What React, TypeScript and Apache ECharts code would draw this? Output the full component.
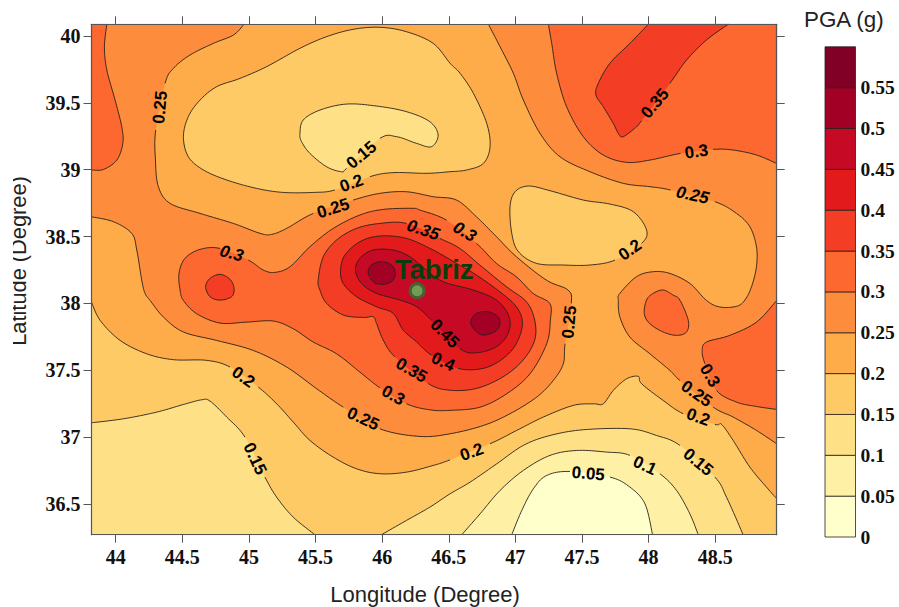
import React, { useEffect, useRef } from "react";
import * as echarts from "echarts";

type P = [number, number] | null;

const lonMin = 43.818, lonMax = 48.962, latMin = 36.27, latMax = 40.0875;
const lonTicks = [44, 44.5, 45, 45.5, 46, 46.5, 47, 47.5, 48, 48.5];
const latTicks = [36.5, 37, 37.5, 38, 38.5, 39, 39.5, 40];
const bandLows = [0, 0.05, 0.1, 0.15, 0.2, 0.25, 0.3, 0.35, 0.4, 0.45, 0.5, 0.55];
const bandColors = ["#FFFFCC", "#FEF1A6", "#FEE187", "#FECA66", "#FEAB49", "#FD8D3C", "#FC6830", "#F43D25", "#E31A1C", "#C60A25", "#A30026", "#800026"];
const tabriz: [number, number] = [46.2625, 38.095];

const nwCorner: P[] = [[lonMin, latMax]];
const neCorner: P[] = [[lonMax, latMax]];
const swCorner: P[] = [[lonMin, latMin]];
const southCorners: P[] = [[lonMax, latMin], [lonMin, latMin]];
const frame: P[] = [[lonMin, latMax], [lonMax, latMax], [lonMax, latMin], [lonMin, latMin]];

// null marks the gap a contour label leaves in the line
const c30NW: P[] = [[43.933, 40.0875], [43.915, 39.92], [43.933, 39.746], [43.995, 39.521], [44.045, 39.322], [44.053, 39.197], [44.008, 39.072], [43.908, 39.002], [43.818, 38.998]];
const c25A: P[] = [[44.963, 40.0875], [44.883, 40.007], [44.733, 39.945], [44.558, 39.858], [44.433, 39.758], [44.37, 39.646], null, [44.3, 39.297], [44.298, 39.072], [44.32, 38.873], [44.408, 38.748], [44.633, 38.673], [44.883, 38.598], [45.083, 38.524], [45.17, 38.516], [45.283, 38.561], [45.483, 38.673], null, [45.783, 38.773], [45.983, 38.823], [46.183, 38.835], [46.383, 38.798], [46.558, 38.773], [46.708, 38.648], [46.858, 38.499], [47.008, 38.349], [47.233, 38.174], [47.395, 38.1], [47.42, 38.0], null, [47.373, 37.698], [47.36, 37.549], [47.285, 37.424], [47.16, 37.299], [46.96, 37.175], [46.76, 37.087], [46.51, 37.025], [46.283, 37.005], [45.983, 37.062], null, [45.708, 37.224], [45.508, 37.362], [45.283, 37.524], [45.033, 37.648], [44.758, 37.723], [44.508, 37.786], [44.358, 37.898], [44.258, 38.022], [44.22, 38.075], [44.195, 38.175], [44.158, 38.399], [44.12, 38.524], [43.983, 38.611], [43.818, 38.648]];
const c25B: P[] = [[46.798, 40.0875], [46.885, 39.92], [46.985, 39.721], [47.06, 39.521], [47.185, 39.272], [47.335, 39.097], [47.56, 38.985], [47.81, 38.898], [48.01, 38.873], [48.165, 38.848], null, [48.498, 38.761], [48.66, 38.673], [48.76, 38.574], [48.81, 38.424], [48.81, 38.274], [48.773, 38.125], [48.723, 38.025], [48.66, 37.978], [48.535, 37.973], [48.435, 38.022], [48.31, 38.149], [48.16, 38.224], [48.035, 38.237], [47.91, 38.2], [47.785, 38.075], [47.773, 38.022], [47.785, 37.898], [47.86, 37.748], [48.01, 37.623], [48.16, 37.499], [48.235, 37.424], null, [48.485, 37.224], [48.635, 37.15], [48.81, 37.05], [48.962, 36.95]];
const c30NE: P[] = [[47.248, 40.0875], [47.273, 39.945], [47.31, 39.721], [47.385, 39.471], [47.51, 39.247], [47.66, 39.11], [47.835, 39.055], [48.01, 39.072], [48.24, 39.122], null, [48.485, 39.152], [48.635, 39.147], [48.81, 39.11], [48.962, 39.047]];
const c35NE: P[] = [[47.998, 40.0875], [47.86, 39.945], [47.71, 39.796], [47.623, 39.646], [47.605, 39.559], [47.66, 39.471], [47.735, 39.347], [47.773, 39.272], [47.81, 39.247], [47.91, 39.322], [47.948, 39.367], null, [48.16, 39.646], [48.285, 39.82], [48.435, 39.97], [48.598, 40.0875]];
const c20Top: P[] = [[46.383, 39.945], [46.183, 40.032], [45.983, 40.065], [45.783, 40.05], [45.583, 39.995], [45.383, 39.908], [45.133, 39.771], [44.933, 39.683], [44.758, 39.621], [44.633, 39.521], [44.545, 39.397], [44.508, 39.247], [44.545, 39.097], [44.658, 38.998], [44.833, 38.923], [45.058, 38.86], [45.258, 38.83], [45.483, 38.83], [45.645, 38.848], null, [45.908, 38.948], [46.083, 38.978], [46.333, 38.973], [46.51, 38.985], [46.635, 38.998], [46.76, 39.047], [46.81, 39.172], [46.785, 39.347], [46.685, 39.571], [46.585, 39.721], [46.51, 39.796]];
const c15Top: P[] = [[45.383, 39.272], [45.408, 39.372], [45.533, 39.446], [45.733, 39.491], [45.958, 39.476], [46.183, 39.434], [46.358, 39.359], [46.42, 39.259], [46.37, 39.172], [46.258, 39.197], [46.108, 39.247], [45.983, 39.234], null, [45.733, 39.01], [45.695, 38.985], [45.583, 39.022], [45.458, 39.122], [45.395, 39.21]];
const c20Mid: P[] = [[46.96, 38.723], [46.998, 38.835], [47.098, 38.878], [47.26, 38.843], [47.51, 38.773], [47.71, 38.743], [47.885, 38.686], [47.985, 38.549], [47.948, 38.449], null, [47.748, 38.324], [47.56, 38.287], [47.36, 38.287], [47.16, 38.299], [47.023, 38.387], [46.973, 38.524]];
const c20S: P[] = [[43.818, 38.01], [43.883, 37.873], [44.033, 37.723], [44.233, 37.623], [44.433, 37.579], [44.683, 37.574], [44.858, 37.524], null, [45.07, 37.374], [45.208, 37.249], [45.333, 37.112], [45.458, 36.975], [45.633, 36.85], [45.808, 36.763], [45.983, 36.726], [46.183, 36.738], [46.383, 36.788], [46.51, 36.83], null, [46.81, 36.95], [47.01, 37.05], [47.21, 37.15], [47.435, 37.237], [47.585, 37.249], [47.66, 37.249], [47.735, 37.349], [47.835, 37.436], [47.923, 37.454], [47.948, 37.399], [48.11, 37.274], [48.26, 37.175], null, [48.498, 37.095], [48.548, 37.095], [48.635, 36.975], [48.76, 36.776], [48.885, 36.626], [48.962, 36.539]];
const c15SW: P[] = [[43.818, 37.107], [44.058, 37.137], [44.308, 37.187], [44.508, 37.244], [44.645, 37.279], [44.708, 37.269], [44.833, 37.15], [44.97, 37.0], null, [45.12, 36.701], [45.208, 36.551], [45.333, 36.401], [45.495, 36.27]];
const c15S: P[] = [[45.995, 36.27], [46.183, 36.377], [46.358, 36.476], [46.51, 36.576], [46.66, 36.663], [46.86, 36.8], [47.06, 36.938], [47.26, 37.012], [47.51, 37.055], [47.86, 37.062], [48.06, 37.012], [48.235, 36.938], null, [48.498, 36.701], [48.585, 36.551], [48.71, 36.27]];
const c10S: P[] = [[46.598, 36.27], [46.735, 36.426], [46.885, 36.601], [47.06, 36.751], [47.26, 36.863], [47.46, 36.9], [47.685, 36.888], [47.86, 36.863], null, [48.085, 36.726], [48.21, 36.601], [48.31, 36.426], [48.373, 36.27]];
const c05S: P[] = [[46.973, 36.27], [47.048, 36.451], [47.135, 36.613], [47.235, 36.713], [47.41, 36.743], null, [47.71, 36.701], [47.86, 36.626], [47.973, 36.501], [48.03, 36.27]];
const c30C: P[] = [[44.995, 38.324], [45.108, 38.249], [45.195, 38.232], [45.308, 38.274], [45.458, 38.424], [45.633, 38.561], [45.833, 38.661], [46.008, 38.703], [46.233, 38.711], [46.283, 38.698], [46.483, 38.623], null, [46.708, 38.449], [46.858, 38.299], [47.008, 38.199], [47.133, 38.075], [47.258, 38.0], [47.263, 37.875], [47.235, 37.698], [47.11, 37.474], [46.935, 37.324], [46.735, 37.224], [46.51, 37.2], [46.358, 37.204], [46.183, 37.249], null, [45.983, 37.369], [45.833, 37.486], [45.658, 37.623], [45.483, 37.711], [45.333, 37.81], [45.183, 37.868], [44.983, 37.86], [44.783, 37.853], [44.608, 37.923], [44.508, 38.022], [44.483, 38.1], [44.475, 38.224], [44.52, 38.337], [44.633, 38.404], [44.783, 38.411], null];
const c30Island: P[] = [[47.985, 38.025], [48.035, 38.075], [48.11, 38.1], [48.185, 38.062], [48.235, 38.025], [48.298, 37.873], [48.285, 37.786], [48.21, 37.761], [48.11, 37.786], [48.01, 37.848], [47.968, 37.923]];
const c30E: P[] = [[48.962, 38.022], [48.81, 37.86], [48.61, 37.761], [48.435, 37.711], [48.403, 37.648], [48.423, 37.549], null, [48.51, 37.349], [48.66, 37.262], [48.81, 37.229], [48.962, 37.207]];
const c35W: P[] = [[44.675, 38.125], [44.708, 38.187], [44.783, 38.217], [44.858, 38.18], [44.888, 38.112], [44.87, 38.05], [44.783, 38.025], [44.708, 38.05]];
const c35C: P[] = [[45.52, 38.174], [45.558, 38.349], [45.658, 38.474], [45.808, 38.561], [45.983, 38.598], [46.183, 38.598], null, [46.433, 38.486], [46.583, 38.411], [46.733, 38.287], [46.933, 38.125], [47.083, 38.012], [47.145, 37.875], [47.145, 37.725], [47.058, 37.576], [46.908, 37.451], [46.708, 37.364], [46.508, 37.351], [46.345, 37.401], null, [46.095, 37.601], [46.008, 37.726], [45.958, 37.85], [45.933, 37.9], [45.858, 37.895], [45.708, 37.913], [45.583, 38.0], [45.533, 38.1]];
const c40C: P[] = [[45.688, 38.249], [45.72, 38.361], [45.833, 38.461], [45.983, 38.504], [46.183, 38.486], [46.383, 38.399], [46.558, 38.299], [46.708, 38.212], [46.883, 38.087], [47.008, 37.975], [47.053, 37.85], [47.008, 37.701], [46.908, 37.588], [46.758, 37.514], [46.57, 37.514], null, [46.37, 37.613], [46.258, 37.713], [46.158, 37.8], [46.083, 37.925], [45.958, 37.975], [45.808, 38.05], [45.708, 38.149]];
const c45C: P[] = [[45.8, 38.249], [45.833, 38.337], [45.933, 38.399], [46.083, 38.399], [46.208, 38.349], [46.333, 38.249], [46.458, 38.162], [46.683, 38.1], [46.858, 38.025], [46.953, 37.9], [46.945, 37.775], [46.858, 37.676], [46.708, 37.631], [46.583, 37.663], null, [46.37, 37.875], [46.258, 37.975], [46.133, 38.025], [45.958, 38.075], [45.845, 38.149]];
const c50W: P[] = [[45.895, 38.229], [45.92, 38.287], [45.995, 38.312], [46.07, 38.287], [46.1, 38.224], [46.07, 38.162], [45.995, 38.142], [45.933, 38.162]];
const c50E: P[] = [[46.665, 37.863], [46.708, 37.925], [46.795, 37.938], [46.87, 37.9], [46.883, 37.838], [46.845, 37.788], [46.758, 37.763], [46.695, 37.8]];

// label, lon, lat, angle, slanted
const contourLabels: [string, number, number, number, number][] = [
  ["0.25", 44.3325, 39.466, 85, 0], ["0.15", 45.845, 39.11, 40, 0], ["0.2", 45.77, 38.898, 20, 0],
  ["0.25", 45.6325, 38.711, 17, 0], ["0.3", 44.87, 38.374, -15, 1], ["0.35", 46.3075, 38.549, -18, 1],
  ["0.3", 46.62, 38.536, -30, 1], ["0.45", 46.47, 37.775, -45, 0], ["0.4", 46.4575, 37.563, -25, 0],
  ["0.35", 46.22, 37.5, -30, 0], ["0.3", 46.0825, 37.312, -30, 0], ["0.25", 45.8575, 37.137, -25, 0],
  ["0.2", 44.9575, 37.449, -35, 0], ["0.15", 45.045, 36.838, -65, 0], ["0.2", 46.6725, 36.888, 20, 0],
  ["0.05", 47.5475, 36.726, -5, 0], ["0.1", 47.9725, 36.788, -25, 0], ["0.15", 48.3725, 36.813, -40, 0],
  ["0.2", 48.3725, 37.15, -20, 0], ["0.25", 48.36, 37.324, -35, 0], ["0.3", 48.46, 37.461, -60, 0],
  ["0.25", 47.405, 37.86, 85, 0], ["0.35", 48.0475, 39.496, 50, 0], ["0.3", 48.36, 39.135, 8, 0],
  ["0.25", 48.33, 38.81, -12, 1], ["0.2", 47.86, 38.4, 35, 0],
];

type Region = { line: P[]; band: number; closed: boolean; corners: P[] };
const regions: Region[] = [
  { line: [], band: 4, closed: false, corners: frame },
  { line: c20S, band: 3, closed: false, corners: southCorners },
  { line: c15SW, band: 2, closed: false, corners: swCorner },
  { line: c15S, band: 2, closed: false, corners: [] },
  { line: c10S, band: 1, closed: false, corners: [] },
  { line: c05S, band: 0, closed: false, corners: [] },
  { line: c20Top, band: 3, closed: true, corners: [] },
  { line: c15Top, band: 2, closed: true, corners: [] },
  { line: c20Mid, band: 3, closed: true, corners: [] },
  { line: c25A, band: 5, closed: false, corners: nwCorner },
  { line: c25B, band: 5, closed: false, corners: neCorner },
  { line: c30NW, band: 6, closed: false, corners: nwCorner },
  { line: c30NE, band: 6, closed: false, corners: neCorner },
  { line: c30E, band: 6, closed: false, corners: [] },
  { line: c30C, band: 6, closed: true, corners: [] },
  { line: c30Island, band: 6, closed: true, corners: [] },
  { line: c35NE, band: 7, closed: false, corners: [] },
  { line: c35W, band: 7, closed: true, corners: [] },
  { line: c35C, band: 7, closed: true, corners: [] },
  { line: c40C, band: 8, closed: true, corners: [] },
  { line: c45C, band: 9, closed: true, corners: [] },
  { line: c50W, band: 10, closed: true, corners: [] },
  { line: c50E, band: 10, closed: true, corners: [] },
];

const STEPS = 10;
function catmull(a: number, b: number, c: number, d: number, t: number) {
  return 0.5 * (2 * b + (c - a) * t + (2 * a - 5 * b + 4 * c - d) * t * t + (3 * b - a - 3 * c + d) * t * t * t);
}

function renderRegion(params: any, api: any) {
  const r = regions[params.dataIndex];
  const cs = params.coordSys;
  const clamp = (p: number[]) => [
    Math.min(cs.x + cs.width, Math.max(cs.x, p[0])),
    Math.min(cs.y + cs.height, Math.max(cs.y, p[1])),
  ];
  const pts: number[][] = [];
  const gaps = new Set<number>();
  r.line.forEach((e) => {
    if (e === null) gaps.add(pts.length - 1);
    else pts.push(api.coord(e));
  });
  const n = pts.length;
  const fill: number[][] = [];
  const strokes: number[][][] = [];
  let cur: number[][] = [];
  const segCount = r.closed ? n : n - 1;
  for (let i = 0; i < segCount; i++) {
    const at = (k: number) => (r.closed ? pts[(k + n) % n] : pts[Math.max(0, Math.min(n - 1, k))]);
    const [p0, p1, p2, p3] = [at(i - 1), at(i), at(i + 1), at(i + 2)];
    const seg: number[][] = [];
    for (let s = 0; s <= STEPS; s++) {
      const t = s / STEPS;
      seg.push(clamp([catmull(p0[0], p1[0], p2[0], p3[0], t), catmull(p0[1], p1[1], p2[1], p3[1], t)]));
    }
    fill.push(...seg);
    if (gaps.has(i)) {
      if (cur.length) strokes.push(cur);
      cur = [];
    } else {
      cur.push(...seg);
    }
  }
  if (cur.length) strokes.push(cur);
  r.corners.forEach((c) => fill.push(api.coord(c)));
  const children: any[] = [
    { type: "polygon", shape: { points: fill }, style: { fill: bandColors[r.band], stroke: bandColors[r.band], lineWidth: 0.3 } },
  ];
  strokes.forEach((s) =>
    children.push({ type: "polyline", shape: { points: s }, style: { fill: "none", stroke: "#2a2018", lineWidth: 0.9 } })
  );
  return { type: "group", children };
}

function renderLabel(params: any, api: any) {
  const [text, lon, lat, angle, slant] = contourLabels[params.dataIndex];
  const p = api.coord([lon, lat]);
  return {
    type: "text",
    x: p[0],
    y: p[1],
    rotation: (angle * Math.PI) / 180,
    style: {
      text,
      fill: "#000",
      fontSize: 17,
      fontWeight: "bold",
      fontStyle: slant ? "italic" : "normal",
      fontFamily: "Liberation Sans",
      align: "center",
      verticalAlign: "middle",
    },
  };
}

function renderBand(params: any, api: any) {
  const lo = bandLows[params.dataIndex];
  const a = api.coord([0, lo + 0.05]);
  const b = api.coord([1, lo]);
  return {
    type: "rect",
    shape: { x: a[0], y: a[1], width: b[0] - a[0], height: b[1] - a[1] },
    style: { fill: bandColors[params.dataIndex], stroke: "#2a2018", lineWidth: 0.8 },
  };
}

const serifBold = { fontFamily: "Liberation Serif", fontWeight: "bold" as const, fontSize: 20, color: "#111" };
const frameLine = { show: true, onZero: false, lineStyle: { color: "#555", width: 1.2 } };

function mainX(position: string, labels: boolean) {
  return {
    type: "value", gridIndex: 0, position, min: lonMin, max: lonMax, z: 5, splitLine: { show: false },
    axisLine: frameLine,
    axisTick: { show: true, length: 8, customValues: lonTicks, lineStyle: { color: "#555" } },
    axisLabel: labels ? { ...serifBold, margin: 12, customValues: lonTicks } : { show: false },
  };
}
function mainY(position: string, labels: boolean) {
  return {
    type: "value", gridIndex: 0, position, min: latMin, max: latMax, z: 5, splitLine: { show: false },
    axisLine: frameLine,
    axisTick: { show: true, length: 8, customValues: latTicks, lineStyle: { color: "#555" } },
    axisLabel: labels ? { ...serifBold, margin: 11, customValues: latTicks } : { show: false },
  };
}

export default function App() {
  const ref = useRef<HTMLDivElement>(null);
  useEffect(() => {
    document.body.style.margin = "0";
    const chart = echarts.init(ref.current!, undefined, { renderer: "svg" });
    chart.setOption({
      animation: false,
      backgroundColor: "#fff",
      grid: [
        { left: 91.5, top: 24.3, width: 685.2, height: 510.4, outerBoundsMode: "none" },
        { left: 825, top: 46.8, width: 30.5, height: 490.2, outerBoundsMode: "none" },
      ],
      xAxis: [
        { ...mainX("bottom", true), name: "Longitude (Degree)", nameLocation: "middle", nameGap: 49,
          nameTextStyle: { fontFamily: "Liberation Sans", fontSize: 22, color: "#222", padding: [0, 18, 0, 0] } },
        mainX("top", false),
        { type: "value", gridIndex: 1, min: 0, max: 1, show: false },
      ],
      yAxis: [
        mainY("left", true),
        mainY("right", false),
        {
          type: "value", gridIndex: 1, position: "right", min: 0, max: 0.6, interval: 0.05,
          splitLine: { show: false }, axisLine: { show: false }, axisTick: { show: false },
          axisLabel: {
            ...serifBold, fontSize: 19.5, margin: 5,
            formatter: (v: number) => (v > 0.575 ? "" : String(Number(v.toFixed(2)))),
          },
        },
      ],
      title: {
        text: "PGA (g)", left: 804, top: 8, padding: 0,
        textStyle: { fontFamily: "Liberation Sans", fontSize: 22.4, fontWeight: "normal", color: "#222" },
      },
      graphic: [
        { type: "text", x: 18.5, y: 261, rotation: Math.PI / 2, z: 50,
          style: { text: "Latitude (Degree)", fontFamily: "Liberation Sans", fontSize: 21.8, fill: "#222", align: "center", verticalAlign: "middle" } },
        { type: "rect", z: 60, shape: { x: 0, y: 150, width: 13, height: 220 }, style: { fill: "#fff" } },
      ],
      series: [
        {
          type: "custom", xAxisIndex: 0, yAxisIndex: 0, renderItem: renderRegion, z: 2, silent: true,
          data: regions.map(() => [lonMin, latMin]),
        },
        {
          type: "custom", xAxisIndex: 0, yAxisIndex: 0, renderItem: renderLabel, z: 3, silent: true,
          data: contourLabels.map((l) => [l[1], l[2]]),
        },
        {
          type: "scatter", xAxisIndex: 0, yAxisIndex: 0, z: 4, silent: true, symbolSize: 14,
          data: [tabriz],
          itemStyle: { color: "#6f9e52", borderColor: "#4a5f33", borderWidth: 3, opacity: 1 },
          label: {
            show: true, formatter: "Tabriz", position: "inside", offset: [17, -21.5],
            fontFamily: "Liberation Sans", fontWeight: "bold", fontSize: 27.5, color: "#0b3d0b",
          },
        },
        {
          type: "custom", xAxisIndex: 2, yAxisIndex: 2, renderItem: renderBand, z: 2, silent: true,
          data: bandLows.map((v) => [0, v]),
        },
      ],
    });
    return () => chart.dispose();
  }, []);
  return <div ref={ref} style={{ position: "fixed", left: 0, top: 0, width: 899, height: 607 }} />;
}
